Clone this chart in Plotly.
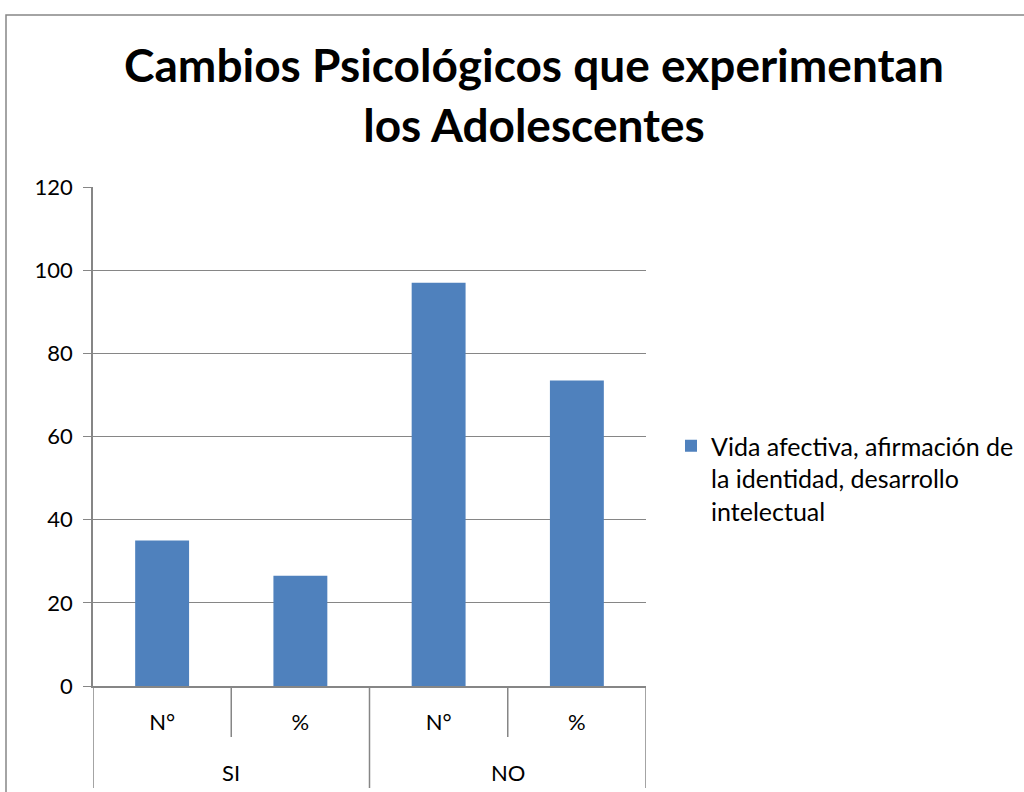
import plotly.graph_objects as go

groups = ["SI", "SI", "NO", "NO"]
subcats = ["N°", "%", "N°", "%"]
values = [35, 26.52, 97, 73.48]
series_name = "Vida afectiva, afirmación de<br>la identidad, desarrollo<br>intelectual"
title_text = "Cambios Psicológicos que experimentan<br>los Adolescentes"
y_ticks = [0, 20, 40, 60, 80, 100, 120]

FONT = "Lato, Carlito, Calibri, sans-serif"
GRAY = "#868686"

xpos = list(range(len(values)))
# group centres and boundaries derived from the category lists
group_names = []
for g in groups:
    if g not in group_names:
        group_names.append(g)
group_centers = [sum(i for i, g in enumerate(groups) if g == n) / groups.count(n) for n in group_names]
inner_bounds = [i + 0.5 for i in range(len(groups) - 1) if groups[i] == groups[i + 1]]
outer_bounds = [-0.5] + [i + 0.5 for i in range(len(groups) - 1) if groups[i] != groups[i + 1]] + [len(groups) - 0.5]

fig = go.Figure()
fig.add_trace(go.Bar(
    x=xpos,
    y=values,
    name=series_name,
    marker=dict(color="#4F81BD", line=dict(width=0)),
    showlegend=True,
    hoverinfo="skip",
))

W, H = 1024, 792
L, R, T, B = 93, 646, 187, 686
pw, ph = R - L, B - T

shapes = [
    dict(type="rect", xref="paper", yref="paper",
         x0=(6 - L) / pw, x1=(1040 - L) / pw, y0=(B - 810) / ph, y1=(B - 15) / ph,
         line=dict(color=GRAY, width=1.5), fillcolor="rgba(0,0,0,0)", layer="below"),
]
for xb in inner_bounds:
    shapes.append(dict(type="line", xref="x", yref="paper", x0=xb, x1=xb,
                       y0=0, y1=-51 / ph, line=dict(color=GRAY, width=1.5)))
for xb in outer_bounds:
    shapes.append(dict(type="line", xref="x", yref="paper", x0=xb, x1=xb,
                       y0=0, y1=-102 / ph, line=dict(color=GRAY, width=1.5)))

annotations = [
    dict(x=c, y=-(772 - B) / ph, xref="x", yref="paper", text=n, showarrow=False,
         xanchor="center", yanchor="middle",
         font=dict(family=FONT, size=22, color="black"))
    for c, n in zip(group_centers, group_names)
]

xr = [-0.5, len(values) - 0.5]

fig.update_layout(
    width=W, height=H,
    margin=dict(l=L, r=W - R, t=T, b=H - B, autoexpand=False),
    paper_bgcolor="white", plot_bgcolor="white",
    font=dict(family=FONT, size=22, color="black"),
    title=dict(text=title_text, x=534 / W, xanchor="center",
               y=1 - 82 / H, yanchor="middle",
               font=dict(family=FONT, size=46, color="black", weight="bold")),
    bargap=0.61,
    showlegend=True,
    legend=dict(x=(671 - L) / pw, xanchor="left", y=(B - 423) / ph, yanchor="top",
                font=dict(family=FONT, size=25, color="black"),
                valign="top", itemwidth=30, bgcolor="rgba(0,0,0,0)"),
    xaxis=dict(range=xr, tickvals=xpos, ticktext=subcats, showline=True,
               linecolor=GRAY, linewidth=1.5, ticks="", showgrid=False, zeroline=False,
               ticklabelstandoff=16, fixedrange=True,
               tickfont=dict(family=FONT, size=22, color="black")),
    yaxis=dict(range=[0, 120], tickvals=y_ticks, showgrid=True, gridcolor=GRAY, gridwidth=1.2,
               showline=True, linecolor=GRAY, linewidth=1.5, ticks="outside",
               tickcolor=GRAY, ticklen=8, zeroline=False, fixedrange=True,
               tickfont=dict(family=FONT, size=22, color="black"), ticklabelstandoff=6),
    shapes=shapes,
    annotations=annotations,
)

fig.write_html("out.html", config={"displayModeBar": False},
               post_script="document.body.style.margin='0';")
